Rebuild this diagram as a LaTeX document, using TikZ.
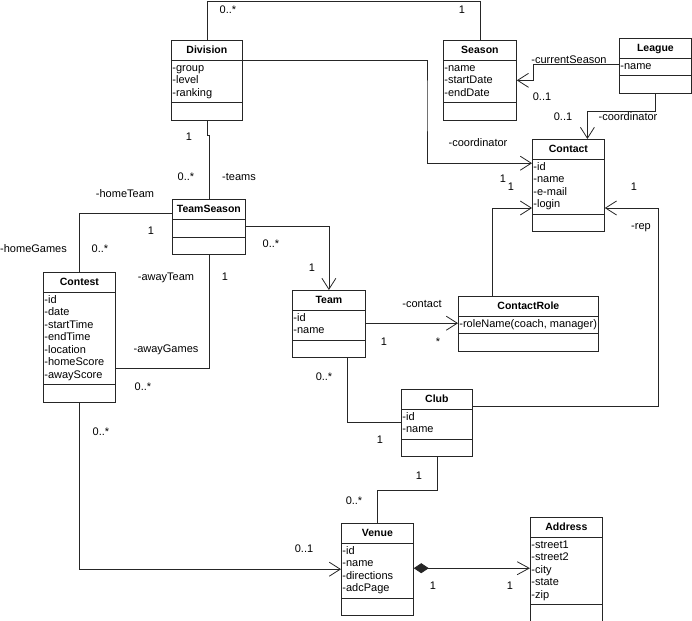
\documentclass[tikz,border=0pt]{standalone}
\usepackage{fontspec}
\setmainfont{Liberation Sans}
\usetikzlibrary{arrows.meta,shapes.multipart}

\newcommand{\cname}[1]{{\fontsize{10.5}{12.5}\selectfont\bfseries\rule[-4.5pt]{0pt}{15pt}#1}}
\newcommand{\attrs}[1]{\begin{tabular}{@{}l@{}}#1\end{tabular}}

\begin{document}
\begin{tikzpicture}[x=1pt,y=-1pt,font=\fontsize{11}{12.5}\selectfont]
	 \tikzstyle{umlclass}=[rectangle split,rectangle split parts=3,draw=black!85,line width=0.8pt,anchor=north west,minimum width=72pt,inner xsep=1pt,inner ysep=2pt,rectangle split part align={center,left,left},rectangle split empty part height=13pt,rectangle split empty part depth=0pt]
	 \tikzstyle{assoc}=[draw=black!85,line width=0.8pt]
	 \tikzstyle{nav}=[assoc,-{Straight Barb[length=11pt,width=14pt]}]
	 \tikzstyle{compos}=[assoc,{Diamond[length=15pt,width=10pt]}-{Straight Barb[length=12pt,width=13pt]}]
	 \tikzstyle{mult}=[inner sep=0pt,text height=8pt,text depth=0pt]

	 \useasboundingbox (0,0) rectangle (692,620);

	 \node[umlclass,minimum width=71pt] (division) at (171,40) {\cname{Division}\nodepart{second}\attrs{-group\\-level\\-ranking}\nodepart{third}};
	 \node[umlclass,minimum width=73pt] (season) at (443,40) {\cname{Season}\nodepart{second}\attrs{-name\\-startDate\\-endDate}\nodepart{third}};
	 \node[umlclass] (league) at (619,38) {\cname{League}\nodepart{second}\attrs{-name}\nodepart{third}};
	 \node[umlclass] (contact) at (532,139) {\cname{Contact}\nodepart{second}\attrs{-id\\-name\\-e-mail\\-login}\nodepart{third}};
	 \node[umlclass,minimum width=73pt] (teamseason) at (172,199) {\cname{TeamSeason}\nodepart{second}\nodepart{third}};
	 \node[umlclass] (contest) at (43,272) {\cname{Contest}\nodepart{second}\attrs{-id\\-date\\-startTime\\-endTime\\-location\\-homeScore\\-awayScore}\nodepart{third}};
	 \node[umlclass,minimum width=73pt] (team) at (292,290) {\cname{Team}\nodepart{second}\attrs{-id\\-name}\nodepart{third}};
	 \node[umlclass,minimum width=140pt] (contactrole) at (458,296) {\cname{ContactRole}\nodepart{second}\attrs{-roleName(coach, manager)}\nodepart{third}};
	 \node[umlclass,minimum width=71pt] (club) at (401,389) {\cname{Club}\nodepart{second}\attrs{-id\\-name}\nodepart{third}};
	 \node[umlclass] (venue) at (341,523) {\cname{Venue}\nodepart{second}\attrs{-id\\-name\\-directions\\-adcPage}\nodepart{third}};
	 \node[umlclass] (address) at (530,517) {\cname{Address}\nodepart{second}\attrs{-street1\\-street2\\-city\\-state\\-zip}\nodepart{third}};

	 \draw[assoc] (division.north) |- (season.north |- 0,1) -- (season.north);
	 \draw[nav] (division.text split east) -| (427,100) |- ([yshift=-4pt]contact.text split west);
	 \draw[nav] ([yshift=-6pt]league.text split west) -| (533,70) |- (season.east);
	 \draw[nav] (league.south) -- ++(0,18) -| ([xshift=19pt]contact.north);
	 \draw[nav] ([xshift=-36pt]contactrole.north) |- ([yshift=6pt]contact.second split west);
	 \draw[nav] ([yshift=3pt]club.text split east) -| (658,300) |- ([yshift=6pt]contact.second split east);
	 \draw[assoc] (division.south) |- (teamseason.north |- 0,135) -- (teamseason.north);
	 \draw[assoc] ([yshift=6pt]teamseason.text split west) -| (contest.north);
	 \draw[assoc] (teamseason.south) |- ([yshift=16pt]contest.second split east);
	 \draw[nav] ([yshift=-7pt]teamseason.text split east) -| (team.north);
	 \draw[nav] ([yshift=-13pt]team.text split east) -- ([yshift=-7pt]contactrole.text split west);
	 \draw[assoc] ([xshift=18.5pt]team.south) |- ([yshift=-13pt]club.text split west);
	 \draw[assoc] (club.south) -- ++(0,33) -| (venue.north);
	 \draw[compos] ([yshift=-25pt]venue.text split east) -- ([yshift=-31pt]address.text split west);
	 \draw[nav] (contest.south) |- ([yshift=-26pt]venue.text split west);

	 \node[mult] (m1) at (228,10) {0..*};
	 \node[mult] (m2) at (462,10) {1};
	 \node[mult] (r1) at (569,60) {-currentSeason};
	 \node[mult] (m3) at (542,97) {0..1};
	 \node[mult] (m4) at (563,117) {0..1};
	 \node[mult] (r2) at (628,117) {-coordinator};
	 \node[mult] (r3) at (478,143) {-coordinator};
	 \node[mult] (m5) at (503,179) {1};
	 \node[mult] (m6) at (511,187) {1};
	 \node[mult] (m7) at (634,187) {1};
	 \node[mult] (r4) at (641,225) {-rep};
	 \node[mult] (m8) at (189,137) {1};
	 \node[mult] (m9) at (186,177) {0..*};
	 \node[mult] (r5) at (239,177) {-teams};
	 \node[mult] (r6) at (125,193) {-homeTeam};
	 \node[mult] (m10) at (151,230) {1};
	 \node[mult,anchor=west] (r7) at (0,248) {-homeGames};
	 \node[mult] (m11) at (100,248) {0..*};
	 \node[mult] (m12) at (271,243) {0..*};
	 \node[mult] (r8) at (166,276) {-awayTeam};
	 \node[mult] (m13) at (225,276) {1};
	 \node[mult] (m14) at (312,267) {1};
	 \node[mult] (r9) at (166,348) {-awayGames};
	 \node[mult] (m15) at (143,386) {0..*};
	 \node[mult] (r10) at (422,303) {-contact};
	 \node[mult] (m16) at (384,341) {1};
	 \node[mult] (m17) at (438,341) {*};
	 \node[mult] (m18) at (324,376) {0..*};
	 \node[mult] (m19) at (380,439) {1};
	 \node[mult] (m20) at (101,431) {0..*};
	 \node[mult] (m21) at (419,475) {1};
	 \node[mult] (m22) at (354,500) {0..*};
	 \node[mult] (m23) at (304,548) {0..1};
	 \node[mult] (m24) at (433,585) {1};
	 \node[mult] (m25) at (510,585) {1};

 \end{tikzpicture}
\end{document}
